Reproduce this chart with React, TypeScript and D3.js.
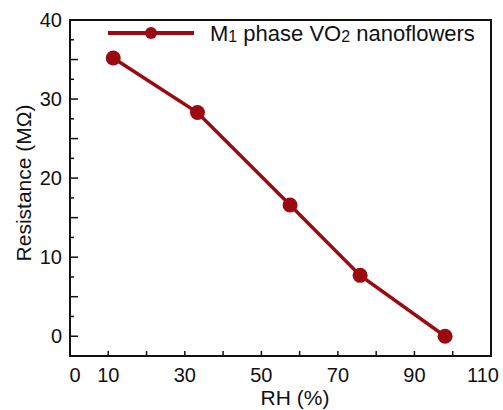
import { useEffect, useRef } from 'react';
import * as d3 from 'd3';

const rh = [11.3, 33.3, 57.5, 75.8, 98];
const resistance = [35.2, 28.3, 16.6, 7.7, 0];
const xTickLabels = [0, 10, 30, 50, 70, 90, 110];
const yTickLabels = [0, 10, 20, 30, 40];

export default function App() {
  const svgRef = useRef<SVGSVGElement>(null);

  useEffect(() => {
    const svg = d3.select(svgRef.current);
    svg.selectAll('*').remove();

    const width = 503;
    const height = 410;
    const margin = { top: 20, right: 12, bottom: 54, left: 70 };
    const innerW = width - margin.left - margin.right;
    const innerH = height - margin.top - margin.bottom;
    const red = '#9a0a10';
    const font = 'Arial, "Liberation Sans", sans-serif';

    svg.attr('width', width).attr('height', height);
    const g = svg.append('g').attr('transform', `translate(${margin.left},${margin.top})`);

    const x = d3.scaleLinear().domain([0, 110]).range([0, innerW]);
    const y = d3.scaleLinear().domain([-2.5, 40]).range([innerH, 0]);

    // x ticks (inward)
    g.selectAll('.xt')
      .data(d3.range(10, 110, 10))
      .enter()
      .append('line')
      .attr('x1', d => x(d))
      .attr('x2', d => x(d))
      .attr('y1', innerH)
      .attr('y2', innerH - 5)
      .attr('stroke', '#111')
      .attr('stroke-width', 1.5);

    // y ticks: major every 5, minor every 2.5
    g.selectAll('.yt')
      .data(d3.range(0, 40, 2.5))
      .enter()
      .append('line')
      .attr('x1', 0)
      .attr('x2', d => (d % 5 === 0 ? 8 : 4))
      .attr('y1', d => y(d))
      .attr('y2', d => y(d))
      .attr('stroke', '#111')
      .attr('stroke-width', 1.5);

    // edge labels are nudged inside the frame like the original
    const nudge = (d: number) => (d === 0 ? 5 : d === 110 ? -8 : 0);
    g.selectAll('.xl')
      .data(xTickLabels)
      .enter()
      .append('text')
      .attr('x', d => x(d) + nudge(d))
      .attr('y', innerH + 26)
      .attr('text-anchor', 'middle')
      .attr('font-family', font)
      .attr('font-size', 20)
      .attr('fill', '#111')
      .text(d => d);

    g.selectAll('.yl')
      .data(yTickLabels)
      .enter()
      .append('text')
      .attr('x', -8)
      .attr('y', d => y(d))
      .attr('dy', '0.35em')
      .attr('text-anchor', 'end')
      .attr('font-family', font)
      .attr('font-size', 20)
      .attr('fill', '#111')
      .text(d => d);

    // frame
    g.append('rect')
      .attr('width', innerW)
      .attr('height', innerH)
      .attr('fill', 'none')
      .attr('stroke', '#111')
      .attr('stroke-width', 2);

    // axis titles
    svg.append('text')
      .attr('x', 295)
      .attr('y', 405)
      .attr('text-anchor', 'middle')
      .attr('font-family', font)
      .attr('font-size', 21)
      .attr('fill', '#111')
      .text('RH (%)');

    svg.append('text')
      .attr('transform', 'translate(31,183) rotate(-90)')
      .attr('text-anchor', 'middle')
      .attr('font-family', font)
      .attr('font-size', 21)
      .attr('fill', '#111')
      .text('Resistance (MΩ)');

    // series
    const data = rh.map((v, i) => ({ x: v, y: resistance[i] }));
    const line = d3.line<{ x: number; y: number }>()
      .x(d => x(d.x))
      .y(d => y(d.y));

    g.append('path')
      .datum(data)
      .attr('fill', 'none')
      .attr('stroke', red)
      .attr('stroke-width', 3.5)
      .attr('d', line);

    g.selectAll('.pt')
      .data(data)
      .enter()
      .append('circle')
      .attr('cx', d => x(d.x))
      .attr('cy', d => y(d.y))
      .attr('r', 7.5)
      .attr('fill', red);

    // legend
    const lg = g.append('g').attr('transform', 'translate(38,13)');
    lg.append('line')
      .attr('x1', 0)
      .attr('x2', 86)
      .attr('stroke', red)
      .attr('stroke-width', 4);
    lg.append('circle').attr('cx', 43).attr('r', 6).attr('fill', red);
    const t = lg.append('text')
      .attr('x', 102)
      .attr('y', 7.5)
      .attr('font-family', font)
      .attr('font-size', 22)
      .attr('fill', '#111');
    t.append('tspan').text('M');
    t.append('tspan').attr('font-size', 16).attr('dy', 1).text('1');
    t.append('tspan').attr('dy', -1).text(' phase VO');
    t.append('tspan').attr('font-size', 16).attr('dy', 1).text('2');
    t.append('tspan').attr('dy', -1).text(' nanoflowers');
  }, []);

  return <svg ref={svgRef} style={{ position: 'absolute', left: 0, top: 0 }} />;
}
